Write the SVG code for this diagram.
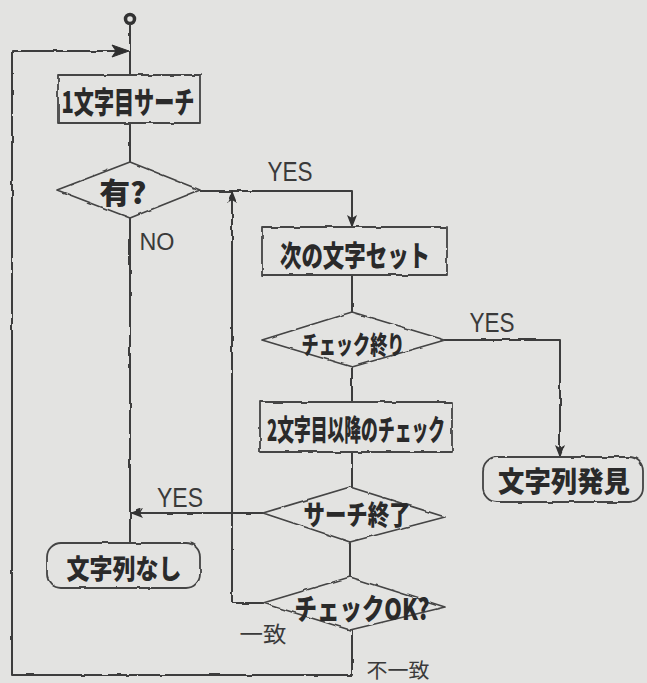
<svg xmlns="http://www.w3.org/2000/svg" width="647" height="683" viewBox="0 0 647 683">
<style>
.ln{fill:none;stroke:#3c3c3c;stroke-width:2;stroke-linejoin:round}
.sh{fill:none;stroke:#444;stroke-width:1.8;stroke-linejoin:round}
.jp{font-family:"Noto Sans CJK JP","Noto Sans CJK SC",sans-serif;font-weight:900;fill:#2a2a2a;text-anchor:middle;dominant-baseline:central}
.lb{font-family:"Liberation Sans","DejaVu Sans",sans-serif;fill:#3a3a3a;text-anchor:middle;dominant-baseline:central}
.lbj{font-family:"Noto Sans CJK JP","Noto Sans CJK SC",sans-serif;fill:#3a3a3a;text-anchor:middle;dominant-baseline:central}
</style>
<defs>
<filter id="wob" filterUnits="userSpaceOnUse" x="0" y="0" width="647" height="683">
<feTurbulence type="fractalNoise" baseFrequency="0.09" numOctaves="1" seed="4" result="n"/>
<feDisplacementMap in="SourceGraphic" in2="n" scale="3" xChannelSelector="R" yChannelSelector="G"/>
</filter>
<marker id="ah" viewBox="0 0 13 10" refX="12" refY="5" markerWidth="13" markerHeight="10" markerUnits="userSpaceOnUse" orient="auto">
<path d="M0,0 L13,5 L0,10 L3,5 z" fill="#333"/>
</marker>
</defs>
<rect width="647" height="683" fill="#e3e3e1"/>
<g id="connectors">
<circle cx="130" cy="19" r="4.5" fill="none" stroke="#333" stroke-width="3.5"/>
<g filter="url(#wob)">
<path class="ln" d="M130,24 V75"/>
<path class="ln" d="M352,630 V675 H12 V51 H116"/>
<path class="ln" d="M130,123 V162"/>
<path class="ln" d="M200,191 H352 V227" marker-end="url(#ah)"/>
<path class="ln" d="M352,275 V312"/>
<path class="ln" d="M445,340 H560 V457" marker-end="url(#ah)"/>
<path class="ln" d="M352,367 V402"/>
<path class="ln" d="M352,452 V487"/>
<path class="ln" d="M263,513 H131" marker-end="url(#ah)"/>
<path class="ln" d="M130,218 V543"/>
<path class="ln" d="M350,542 V577"/>
<path class="ln" d="M263,603 H232 V191" marker-end="url(#ah)"/>
</g>
<polygon points="112,45 129,51 112,57 116,51" fill="#2e2e2e" stroke="#2e2e2e" stroke-width="1"/>
</g>
<g id="labels">
<text class="lb" x="290" y="172" font-size="27" textLength="45" lengthAdjust="spacingAndGlyphs">YES</text>
<text class="lb" x="157" y="242" font-size="23" textLength="35" lengthAdjust="spacingAndGlyphs">NO</text>
<text class="lb" x="492" y="323" font-size="27" textLength="45" lengthAdjust="spacingAndGlyphs">YES</text>
<text class="lb" x="180" y="498" font-size="27" textLength="46" lengthAdjust="spacingAndGlyphs">YES</text>
<text class="lbj" x="263" y="632" font-size="22" textLength="47" lengthAdjust="spacingAndGlyphs">一致</text>
<text class="lbj" x="398" y="669" font-size="20" textLength="63" lengthAdjust="spacingAndGlyphs">不一致</text>
</g>
<g id="n1">
<rect class="sh" x="58" y="75" width="142" height="48" filter="url(#wob)"/>
<text class="jp" x="128" y="100" font-size="30" textLength="133" lengthAdjust="spacingAndGlyphs">1文字目サーチ</text>
</g>
<g id="n2">
<polygon class="sh" points="130,162 200,190 130,218 57,190" filter="url(#wob)"/>
<text class="jp" x="123" y="191" font-size="29" textLength="47" lengthAdjust="spacingAndGlyphs">有?</text>
</g>
<g id="n3">
<rect class="sh" x="262" y="227" width="185" height="48" filter="url(#wob)"/>
<text class="jp" x="355" y="254" font-size="29" textLength="150" lengthAdjust="spacingAndGlyphs">次の文字セット</text>
</g>
<g id="n4">
<polygon class="sh" points="352,312 445,340 352,367 262,340" filter="url(#wob)"/>
<text class="jp" x="353" y="343" font-size="25" textLength="103" lengthAdjust="spacingAndGlyphs">チェック終り</text>
</g>
<g id="n5">
<rect class="sh" x="260" y="402" width="192" height="50" filter="url(#wob)"/>
<text class="jp" x="356" y="428" font-size="29" textLength="178" lengthAdjust="spacingAndGlyphs">2文字目以降のチェック</text>
</g>
<g id="n6">
<rect class="sh" x="483" y="457" width="160" height="45" rx="14" filter="url(#wob)"/>
<text class="jp" x="564" y="480" font-size="28" textLength="132" lengthAdjust="spacingAndGlyphs">文字列発見</text>
</g>
<g id="n7">
<polygon class="sh" points="350,487 445,517 350,542 263,513" filter="url(#wob)"/>
<text class="jp" x="357" y="513" font-size="27" textLength="107" lengthAdjust="spacingAndGlyphs">サーチ終了</text>
</g>
<g id="n8">
<rect class="sh" x="47" y="543" width="153" height="45" rx="14" filter="url(#wob)"/>
<text class="jp" x="124" y="567" font-size="27" textLength="115" lengthAdjust="spacingAndGlyphs">文字列なし</text>
</g>
<g id="n9">
<polygon class="sh" points="350,577 445,607 350,630 263,603" filter="url(#wob)"/>
<text class="jp" x="362" y="607" font-size="29" textLength="135" lengthAdjust="spacingAndGlyphs">チェックOK?</text>
</g>
</svg>
